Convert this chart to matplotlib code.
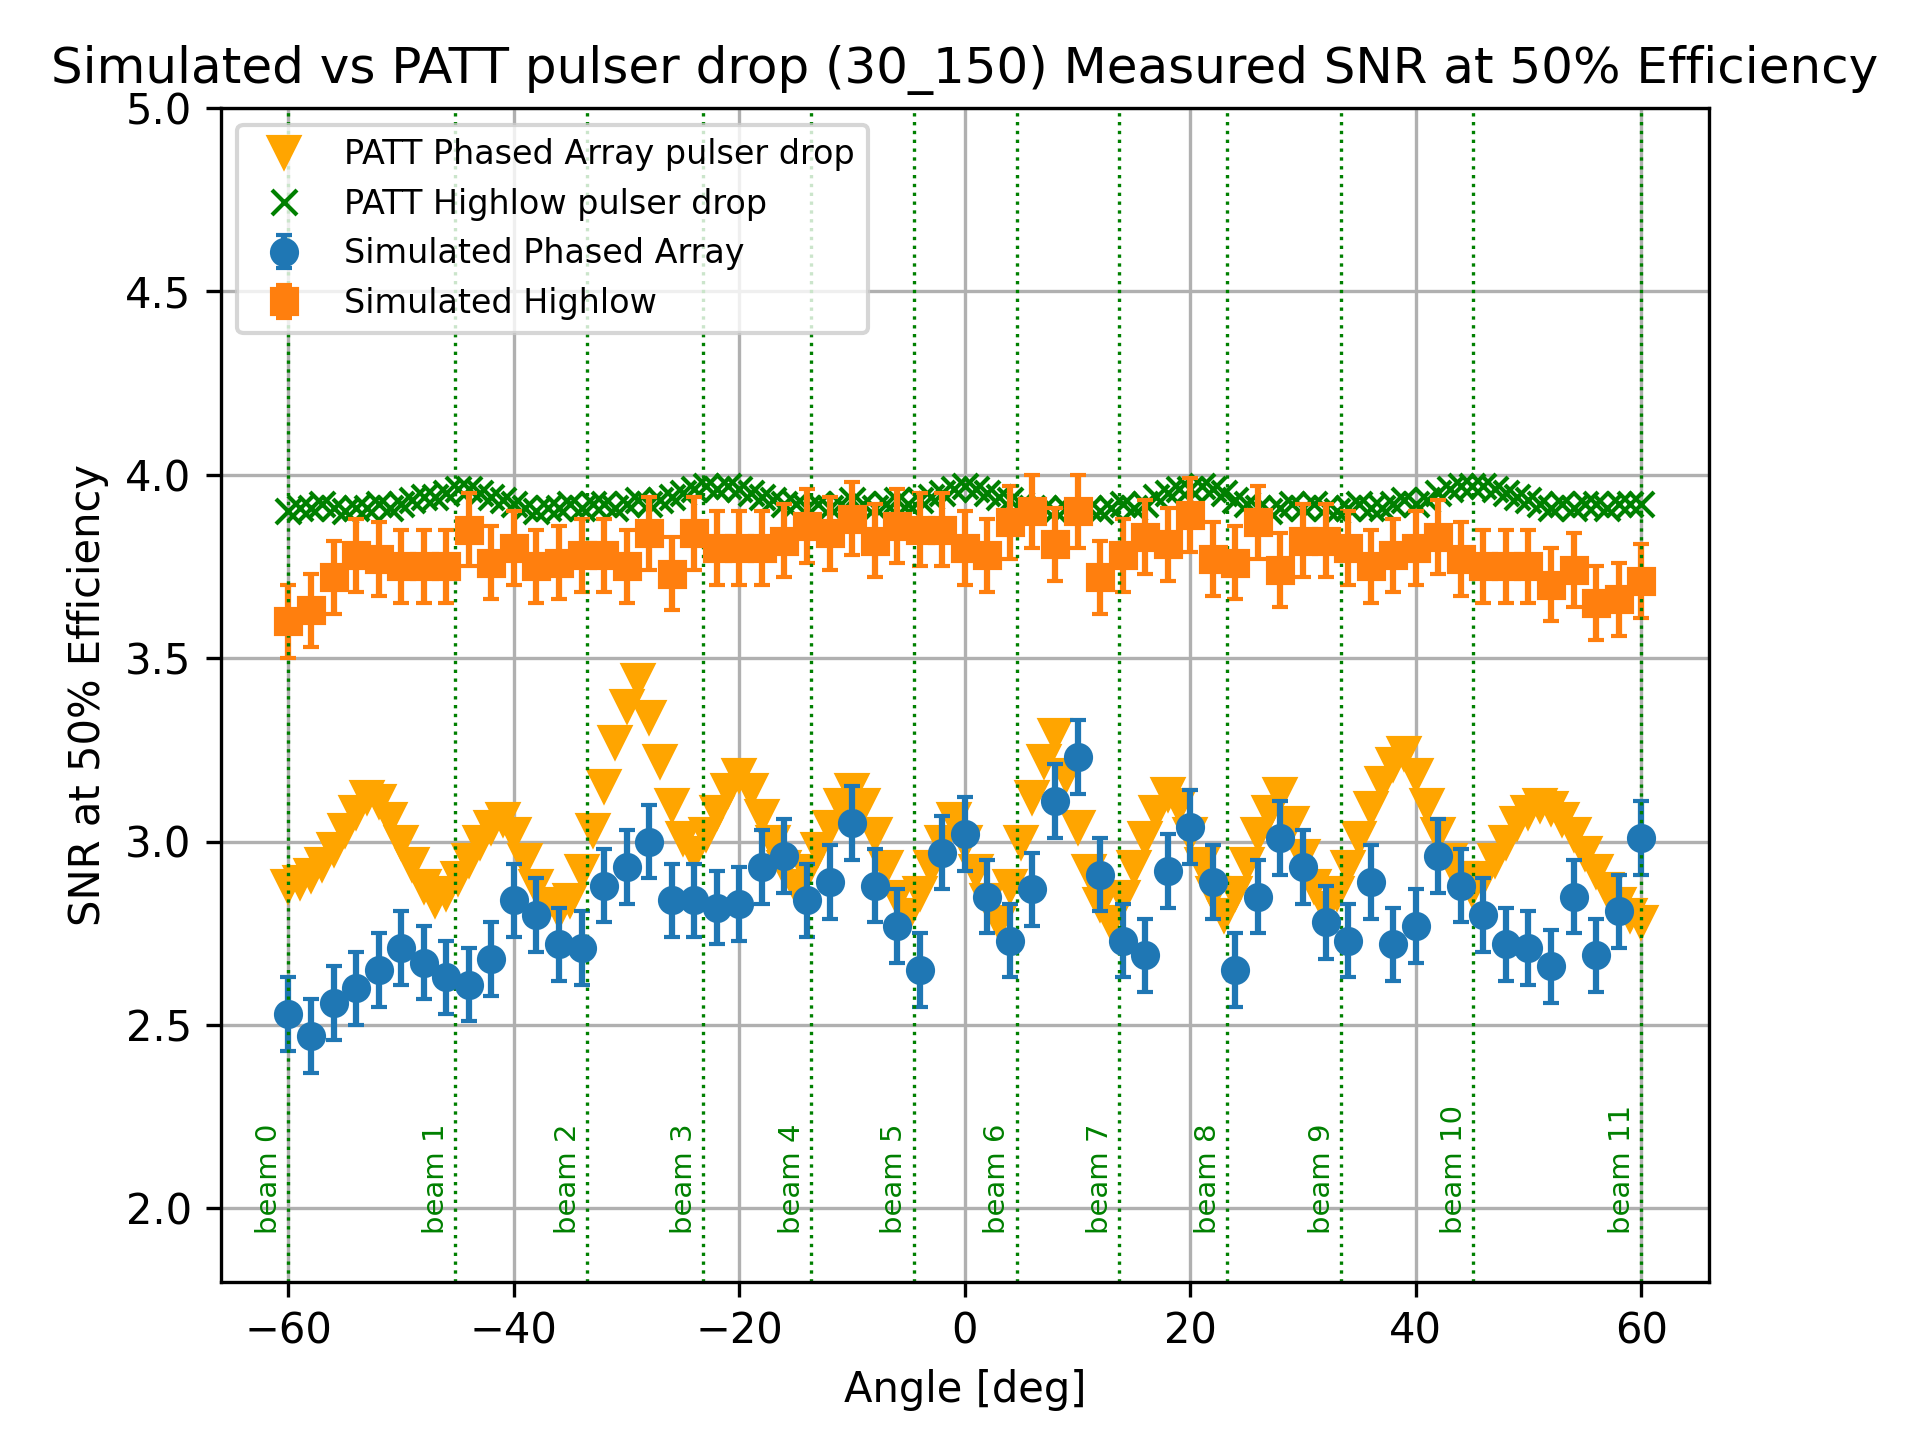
import numpy as np
import matplotlib
matplotlib.use('Agg')
import matplotlib.pyplot as plt

sim_angles = list(range(-60, 61, 2))
sim_pa = [2.53, 2.47, 2.56, 2.60, 2.65, 2.71, 2.67, 2.63, 2.61, 2.68, 2.84, 2.80, 2.72, 2.71, 2.88, 2.93,
          3.00, 2.84, 2.84, 2.82, 2.83, 2.93, 2.96, 2.84, 2.89, 3.05, 2.88, 2.77, 2.65, 2.97, 3.02, 2.85,
          2.73, 2.87, 3.11, 3.23, 2.91, 2.73, 2.69, 2.92, 3.04, 2.89, 2.65, 2.85, 3.01, 2.93, 2.78, 2.73,
          2.89, 2.72, 2.77, 2.96, 2.88, 2.80, 2.72, 2.71, 2.66, 2.85, 2.69, 2.81, 3.01]
sim_hl = [3.60, 3.63, 3.72, 3.78, 3.77, 3.75, 3.75, 3.75, 3.85, 3.76, 3.80, 3.75, 3.76, 3.78, 3.78, 3.75,
          3.84, 3.73, 3.84, 3.80, 3.80, 3.80, 3.82, 3.86, 3.84, 3.88, 3.82, 3.86, 3.85, 3.85, 3.80, 3.78,
          3.87, 3.90, 3.81, 3.90, 3.72, 3.78, 3.83, 3.81, 3.89, 3.77, 3.76, 3.87, 3.74, 3.82, 3.82, 3.80,
          3.75, 3.78, 3.80, 3.83, 3.77, 3.75, 3.75, 3.75, 3.70, 3.74, 3.65, 3.66, 3.71]
sim_err = 0.1

patt_angles = list(range(-60, 61))
patt_pa = [2.88, 2.89, 2.91, 2.94, 2.98, 3.03, 3.08, 3.12,
           3.11, 3.06, 3.00, 2.94, 2.88, 2.84,
           2.86, 2.90, 2.95, 3.00, 3.04, 3.06,
           3.02, 2.95, 2.88, 2.83, 2.81,
           2.84, 2.92, 3.03, 3.15, 3.27, 3.37, 3.44,
           3.34, 3.22, 3.10, 3.01, 2.97,
           3.02, 3.08, 3.14, 3.18,
           3.14, 3.07, 3.00, 2.93, 2.88,
           2.92, 2.98, 3.04, 3.10, 3.14,
           3.10, 3.02, 2.93, 2.85, 2.80,
           2.86, 2.93, 3.00, 3.06,
           3.00, 2.92, 2.84, 2.78,
           2.88, 3.00, 3.12, 3.22, 3.29,
           3.18, 3.04, 2.92, 2.83, 2.78,
           2.85, 2.93, 3.01, 3.08, 3.13,
           3.10, 3.02, 2.94, 2.86, 2.80,
           2.86, 2.94, 3.02, 3.08, 3.13,
           3.05, 2.96, 2.88, 2.82,
           2.86, 2.93, 3.01, 3.09, 3.16, 3.21, 3.24,
           3.18, 3.10, 3.02, 2.95, 2.90, 2.87,
           2.90, 2.95, 3.00, 3.05, 3.08, 3.10,
           3.09, 3.06, 3.02, 2.97, 2.92, 2.87, 2.83, 2.80, 2.78]
patt_hl = [3.90, 3.91, 3.91, 3.92, 3.91, 3.90, 3.91, 3.91, 3.92, 3.91, 3.92, 3.93, 3.94, 3.94, 3.95,
           3.96, 3.96, 3.95, 3.94, 3.93, 3.92, 3.91, 3.90, 3.91, 3.91, 3.92, 3.91, 3.92, 3.92, 3.91,
           3.92, 3.93, 3.92, 3.93, 3.94, 3.95, 3.96, 3.97, 3.96, 3.97, 3.96, 3.95, 3.94, 3.93, 3.92,
           3.92, 3.91, 3.92, 3.91, 3.92, 3.93, 3.92, 3.91, 3.92, 3.93, 3.92, 3.93, 3.94, 3.95, 3.96,
           3.97, 3.96, 3.95, 3.94, 3.93, 3.92, 3.91, 3.91, 3.90, 3.91, 3.90, 3.91, 3.90, 3.91, 3.92,
           3.91, 3.92, 3.94, 3.95, 3.96, 3.96, 3.97, 3.96, 3.95, 3.93, 3.92, 3.91, 3.90, 3.91, 3.92,
           3.91, 3.92, 3.91, 3.90, 3.91, 3.92, 3.91, 3.91, 3.92, 3.93, 3.92, 3.93, 3.95, 3.96, 3.97,
           3.97, 3.97, 3.96, 3.95, 3.94, 3.93, 3.92, 3.91, 3.92, 3.91, 3.92, 3.92, 3.91, 3.92, 3.92, 3.92]

beam_pos = [-60, -45.2, -33.5, -23.2, -13.6, -4.5, 4.6, 13.7, 23.3, 33.4, 45.1, 60]
beam_labels = ['beam %d' % i for i in range(12)]

fig, ax = plt.subplots(figsize=(6.4, 4.8), dpi=300)
ax.plot(patt_angles, patt_pa, 'v', color='orange', markersize=7, label='PATT Phased Array pulser drop')
ax.plot(patt_angles, patt_hl, 'x', color='green', markersize=6, label='PATT Highlow pulser drop')
ax.errorbar(sim_angles, sim_pa, yerr=sim_err, fmt='o', color='C0', capsize=2, label='Simulated Phased Array')
ax.errorbar(sim_angles, sim_hl, yerr=sim_err, fmt='s', color='C1', capsize=2, label='Simulated Highlow')

for pos, lab in zip(beam_pos, beam_labels):
    ax.axvline(pos, color='green', linestyle=':', linewidth=0.8)
    ax.text(pos - 0.5, 1.93, lab, rotation=90, color='green', fontsize=7, ha='right', va='bottom')

ax.set_ylim(1.8, 5.0)
ax.grid(True)
ax.set_xlabel('Angle [deg]')
ax.set_ylabel('SNR at 50% Efficiency')
ax.set_title('Simulated vs PATT pulser drop (30_150) Measured SNR at 50% Efficiency')
ax.legend(loc='upper left', fontsize=8)
plt.subplots_adjust(left=0.115, right=0.89, top=0.925, bottom=0.11)
plt.savefig('out.png')
